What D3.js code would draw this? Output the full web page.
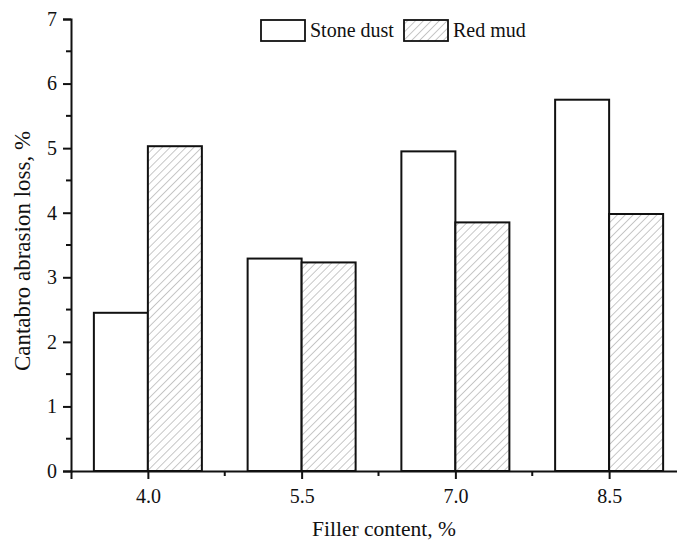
<!DOCTYPE html>
<html>
<head>
<meta charset="utf-8">
<script src="https://cdn.jsdelivr.net/npm/d3@7"></script>
<style>
  html, body { margin: 0; padding: 0; background: #fff; }
  svg { display: block; }
  svg text { font-family: "Liberation Serif", "Times New Roman", serif !important; fill: #111; }
</style>
</head>
<body>
<svg id="chart" width="677" height="542"></svg>
<script>
// Filler content levels (%) and Cantabro abrasion loss (%) for each filler type
const fillerContent = [4.0, 5.5, 7.0, 8.5];
const stoneDust = [2.45, 3.29, 4.95, 5.75];
const redMud = [5.03, 3.23, 3.85, 3.98];
const seriesNames = ["Stone dust", "Red mud"];
const yTicks = [0, 1, 2, 3, 4, 5, 6, 7];
const xTickLabels = ["4.0", "5.5", "7.0", "8.5"];

const svg = d3.select("#chart");
const W = 677, H = 542;
const margin = { left: 71, top: 19, bottom: 71 };
const baseY = H - margin.bottom;

const x = d3.scaleLinear().domain([3.25, 9.25]).range([margin.left, 686]);
const y = d3.scaleLinear().domain([0, 7]).range([baseY, margin.top]);
const barW = 54;

// Diagonal hatch for the red mud series
const defs = svg.append("defs");
const hs = 5.6;
const pat = defs.append("pattern")
  .attr("id", "hatch")
  .attr("patternUnits", "userSpaceOnUse")
  .attr("width", hs).attr("height", hs)
  .attr("patternTransform", "rotate(45)");
pat.append("rect").attr("width", hs).attr("height", hs).attr("fill", "#fff");
pat.append("line")
  .attr("x1", 0).attr("y1", 0).attr("x2", 0).attr("y2", hs)
  .attr("stroke", "#9a9a9a").attr("stroke-width", 1.1);

// Bars
const g = svg.append("g");
g.selectAll("rect.stone")
  .data(fillerContent)
  .join("rect")
  .attr("class", "stone")
  .attr("x", (d) => x(d) - barW)
  .attr("y", (d, i) => y(stoneDust[i]))
  .attr("width", barW)
  .attr("height", (d, i) => baseY - y(stoneDust[i]))
  .attr("fill", "#fff")
  .attr("stroke", "#111")
  .attr("stroke-width", 2);

g.selectAll("rect.red")
  .data(fillerContent)
  .join("rect")
  .attr("class", "red")
  .attr("x", (d) => x(d))
  .attr("y", (d, i) => y(redMud[i]))
  .attr("width", barW)
  .attr("height", (d, i) => baseY - y(redMud[i]))
  .attr("fill", "url(#hatch)")
  .attr("stroke", "#111")
  .attr("stroke-width", 2);

// Y axis: major ticks every 1, minor every 0.5
const yAxis = d3.axisLeft(y).tickValues(yTicks).tickSize(8).tickPadding(6).tickFormat(d3.format("d"));
const yG = svg.append("g").attr("transform", `translate(${margin.left},0)`).call(yAxis);
yG.select(".domain").attr("stroke", "#111").attr("stroke-width", 2);
yG.selectAll(".tick line").attr("stroke", "#111").attr("stroke-width", 2);
yG.selectAll(".tick text").attr("font-size", 20).attr("fill", "#111");
svg.append("g").selectAll("line")
  .data(d3.range(0.5, 7, 1))
  .join("line")
  .attr("x1", margin.left - 5).attr("x2", margin.left)
  .attr("y1", (d) => y(d)).attr("y2", (d) => y(d))
  .attr("stroke", "#111").attr("stroke-width", 2);

// X axis: labelled ticks at each filler content, minor ticks midway
const xAxis = d3.axisBottom(x).tickValues(fillerContent).tickSize(8).tickPadding(10)
  .tickFormat((d, i) => xTickLabels[i]);
const xG = svg.append("g").attr("transform", `translate(0,${baseY})`).call(xAxis);
xG.select(".domain").attr("stroke", "#111").attr("stroke-width", 2);
xG.selectAll(".tick line").attr("stroke", "#111").attr("stroke-width", 2);
xG.selectAll(".tick text").attr("font-size", 20).attr("fill", "#111");
svg.append("g").selectAll("line")
  .data([4.75, 6.25, 7.75])
  .join("line")
  .attr("x1", (d) => x(d)).attr("x2", (d) => x(d))
  .attr("y1", baseY).attr("y2", baseY + 5)
  .attr("stroke", "#111").attr("stroke-width", 2);

// Axis titles
svg.append("text")
  .attr("x", 384).attr("y", 536)
  .attr("text-anchor", "middle")
  .attr("font-size", 21.5)
  .text("Filler content, %");
svg.append("text")
  .attr("transform", `translate(30,${(margin.top + baseY) / 2 + 6}) rotate(-90)`)
  .attr("text-anchor", "middle")
  .attr("font-size", 23)
  .text("Cantabro abrasion loss, %");

// Legend
const legend = svg.append("g");
const legendItems = [
  { name: seriesNames[0], fill: "#fff", x: 261 },
  { name: seriesNames[1], fill: "url(#hatch)", x: 404 }
];
legendItems.forEach((it) => {
  legend.append("rect")
    .attr("x", it.x).attr("y", 20)
    .attr("width", 44).attr("height", 21)
    .attr("fill", it.fill)
    .attr("stroke", "#111").attr("stroke-width", 1.8);
  legend.append("text")
    .attr("x", it.x + 49).attr("y", 37)
    .attr("font-size", 20)
    .text(it.name);
});
</script>
</body>
</html>
